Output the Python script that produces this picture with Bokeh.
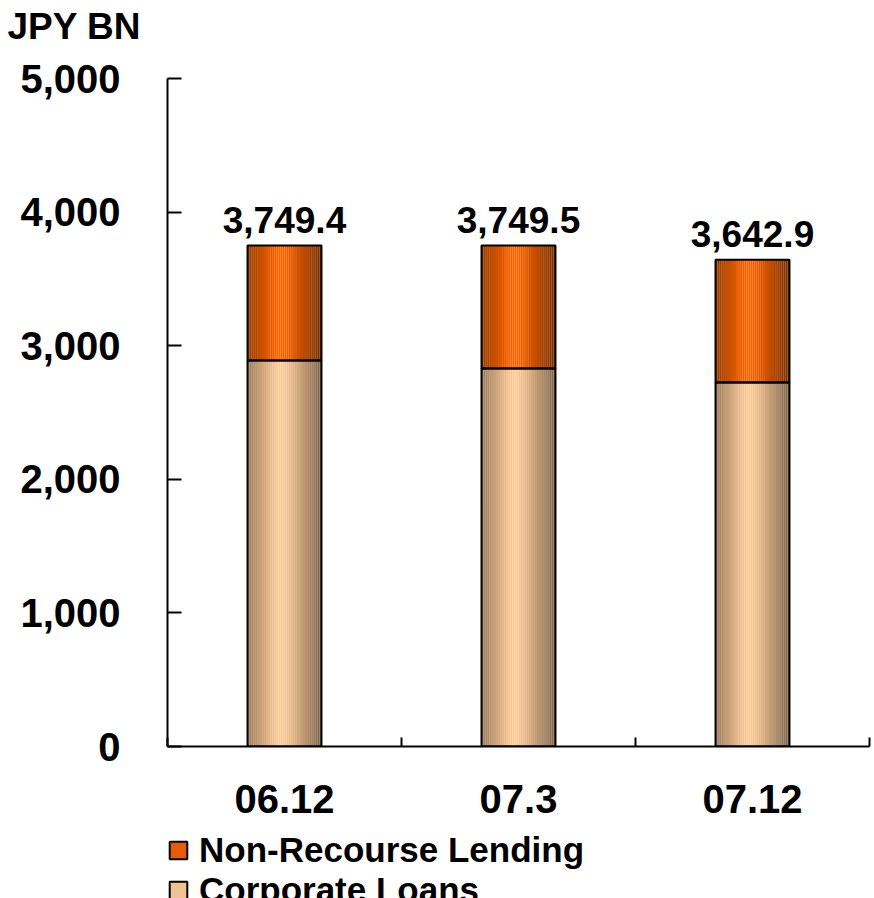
import numpy as np
from bokeh.plotting import figure
from bokeh.layouts import column
from bokeh.models import (FixedTicker, NumeralTickFormatter, Legend, LegendItem,
                          Title, Range1d, ColumnDataSource, LabelSet)
from bokeh.core.properties import value
from bokeh.embed import file_html
from bokeh.resources import INLINE

categories = ["06.12", "07.3", "07.12"]
corporate_loans = [2889.0, 2829.0, 2725.0]
non_recourse = [860.4, 920.5, 917.9]
totals = [3749.4, 3749.5, 3642.9]
y_ticks = [0, 1000, 2000, 3000, 4000, 5000]
series_names = ["Non-Recourse Lending", "Corporate Loans"]
unit_label = "JPY BN"

FONT = "Liberation Sans"
BAR_W = 0.316
N_STRIPS = 36


def bare_fig(h, left=0):
    f = figure(width=874, height=h, output_backend="svg", toolbar_location=None,
               x_range=Range1d(0, 874), y_range=Range1d(0, h),
               x_axis_location=None, y_axis_location=None,
               min_border_left=left, min_border_right=0, min_border_top=0, min_border_bottom=0)
    f.xgrid.visible = False
    f.ygrid.visible = False
    f.outline_line_color = None
    f.border_fill_color = "white"
    f.background_fill_color = "white"
    return f


# --- unit label strip
p0 = bare_fig(56)
p0.add_layout(Title(text=unit_label, align="left", offset=-160, standoff=10,
                    vertical_align="top",
                    text_font=FONT, text_font_style="bold", text_font_size="37px",
                    text_color="black"), "above")

# --- main chart
p = figure(width=874, height=774, frame_width=702, frame_height=668,
           output_backend="svg", toolbar_location=None,
           x_range=Range1d(0, len(categories)), y_range=Range1d(0, 5000),
           min_border_left=167, min_border_right=5, min_border_top=22,
           min_border_bottom=84)
p.xgrid.visible = False
p.ygrid.visible = False
p.outline_line_color = None
p.background_fill_color = "white"
p.border_fill_color = "white"


def shade(hex_color, k):
    r, g, b = (int(hex_color[i:i + 2], 16) for i in (1, 3, 5))
    return "#%02x%02x%02x" % (int(r * k), int(g * k), int(b * k))


def gradient_bars(bottoms, tops, base_color, dark):
    lefts, rights, bots, tps, colors = [], [], [], [], []
    for i in range(len(categories)):
        c = i + 0.5
        for j in range(N_STRIPS):
            t = (j + 0.5) / N_STRIPS
            d = abs(t - 0.45) / 0.55
            k = 1 - dark * d ** 1.3
            lefts.append(c - BAR_W / 2 + j * BAR_W / N_STRIPS)
            rights.append(c - BAR_W / 2 + (j + 1) * BAR_W / N_STRIPS + 0.0005)
            bots.append(bottoms[i])
            tps.append(tops[i])
            colors.append(shade(base_color, k))
    src = ColumnDataSource(dict(left=lefts, right=rights, bottom=bots, top=tps, color=colors))
    p.quad(left="left", right="right", bottom="bottom", top="top", source=src,
           fill_color="color", line_color=None)


xs = [i + 0.5 for i in range(len(categories))]
zeros = [0.0] * len(categories)
stack_top = [a + b for a, b in zip(corporate_loans, non_recourse)]
lefts = [x - BAR_W / 2 for x in xs]
rights = [x + BAR_W / 2 for x in xs]

gradient_bars(zeros, corporate_loans, "#FFCC99", 0.52)
gradient_bars(corporate_loans, stack_top, "#FF6600", 0.55)

# outlines
p.quad(left=lefts, right=rights, bottom=zeros, top=corporate_loans,
       fill_color=None, line_color="black", line_width=2)
p.quad(left=lefts, right=rights, bottom=corporate_loans, top=stack_top,
       fill_color=None, line_color="black", line_width=2)

# total labels
lab_src = ColumnDataSource(dict(x=xs, y=stack_top, text=["{:,.1f}".format(t) for t in totals]))
p.add_layout(LabelSet(x="x", y="y", text="text", source=lab_src, y_offset=13,
                      text_font=value(FONT), text_font_style="bold", text_font_size="37px",
                      text_align="center", text_baseline="alphabetic", text_color="black"))

# axes
yax = p.yaxis[0]
yax.ticker = FixedTicker(ticks=y_ticks)
yax.formatter = NumeralTickFormatter(format="0,0")
yax.major_tick_in = 14
yax.major_tick_out = 0
yax.minor_tick_line_color = None
yax.axis_line_width = 2
yax.major_tick_line_width = 2
yax.axis_line_color = "black"
yax.major_tick_line_color = "black"
yax.major_label_text_font = FONT
yax.major_label_text_font_style = "bold"
yax.major_label_text_font_size = "40px"
yax.major_label_text_color = "black"
yax.major_label_standoff = 47

xax = p.xaxis[0]
xax.ticker = FixedTicker(ticks=xs, minor_ticks=list(range(len(categories) + 1)))
xax.major_label_overrides = {x: c for x, c in zip(xs, categories)}
xax.major_tick_in = 0
xax.major_tick_out = 0
xax.minor_tick_in = 9
xax.minor_tick_out = 0
xax.minor_tick_line_width = 2
xax.minor_tick_line_color = "black"
xax.axis_line_width = 2
xax.axis_line_color = "black"
xax.major_label_text_font = FONT
xax.major_label_text_font_style = "bold"
xax.major_label_text_font_size = "40px"
xax.major_label_text_color = "black"
xax.major_label_standoff = 38

# --- legend strip (swatch renderers lie outside its visible ranges)
p2 = bare_fig(68, left=163)
r_nr = p2.quad(left=lefts, right=rights, bottom=corporate_loans, top=stack_top,
               fill_color="#E65C00", line_color="black", line_width=2)
r_cl = p2.quad(left=lefts, right=rights, bottom=zeros, top=corporate_loans,
               fill_color="#F2C293", line_color="black", line_width=2)
p2.x_range = Range1d(1000, 1874)
legend = Legend(items=[LegendItem(label=series_names[0], renderers=[r_nr]),
                       LegendItem(label=series_names[1], renderers=[r_cl])],
                location="top_left", orientation="vertical",
                label_text_font=FONT, label_text_font_style="bold",
                label_text_font_size="35px", label_text_color="black",
                glyph_width=22, glyph_height=22, spacing=-3, padding=0, margin=0,
                label_standoff=10, border_line_color=None, background_fill_alpha=0)
p2.add_layout(legend)

layout = column(p0, p, p2, spacing=0)
open("out.html", "w").write(file_html(layout, INLINE))
